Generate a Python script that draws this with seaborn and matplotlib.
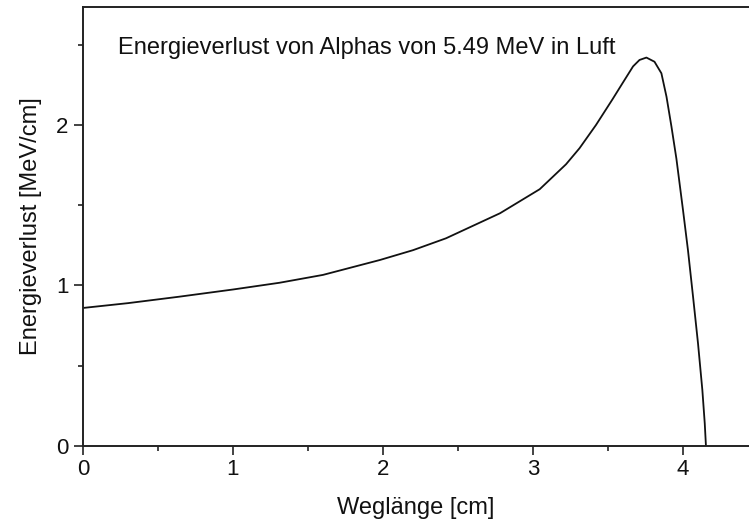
import matplotlib
matplotlib.use("Agg")
import matplotlib.pyplot as plt
import seaborn as sns
from matplotlib.ticker import MultipleLocator

# Data
weglaenge_cm = [0.00, 0.30, 0.64, 1.00, 1.31, 1.60, 1.98, 2.20, 2.42, 2.78,
                3.045, 3.22, 3.31, 3.42, 3.53, 3.60, 3.667, 3.71, 3.756, 3.81,
                3.856, 3.89, 3.923, 3.956, 4.00, 4.033, 4.067, 4.10, 4.129,
                4.145, 4.153]
energieverlust = [0.86, 0.89, 0.93, 0.975, 1.017, 1.066, 1.159, 1.22, 1.294, 1.45,
                  1.60, 1.755, 1.855, 2.00, 2.16, 2.265, 2.365, 2.405, 2.42, 2.394,
                  2.322, 2.176, 1.99, 1.79, 1.47, 1.221, 0.93, 0.64, 0.349,
                  0.141, 0.0]
x_ticks = [0, 1, 2, 3, 4]
y_ticks = [0, 1, 2]
title_text = "Energieverlust von Alphas von 5.49 MeV in Luft"
x_label = "Weglänge [cm]"
y_label = "Energieverlust [MeV/cm]"

sns.set_style("ticks")
plt.rcParams["font.family"] = ["Liberation Sans", "DejaVu Sans"]

fig = plt.figure(figsize=(7.49, 5.27), dpi=100)
ax = fig.add_axes([83 / 749, 81 / 527, 1 - 83 / 749, 439 / 527])

sns.lineplot(x=weglaenge_cm, y=energieverlust, ax=ax, color="#111111",
             linewidth=1.3, estimator=None, sort=False)

ax.set_xlim(0, 4.44)
ax.set_ylim(0, 2.735)
ax.set_xticks(x_ticks)
ax.set_yticks(y_ticks)
ax.xaxis.set_minor_locator(MultipleLocator(0.5))
ax.yaxis.set_minor_locator(MultipleLocator(0.5))
ax.tick_params(axis="both", which="major", direction="out", length=6.5,
               width=1.2, labelsize=16, color="#222222", labelcolor="#111111")
ax.tick_params(axis="both", which="minor", direction="out", length=3.5,
               width=1.2, color="#222222")
ax.tick_params(axis="x", which="major", pad=3)
ax.tick_params(axis="y", which="major", pad=4)

for s in ["left", "bottom", "top"]:
    ax.spines[s].set_visible(True)
    ax.spines[s].set_linewidth(1.4)
    ax.spines[s].set_color("#222222")
ax.spines["right"].set_visible(False)

ax.set_xlabel(x_label, fontsize=17, color="#111111", labelpad=12)
ax.set_ylabel(y_label, fontsize=17, color="#111111", labelpad=10)

ax.text(0.231, 2.44, title_text, fontsize=17, color="#111111",
        ha="left", va="baseline")

fig.savefig("out.png", dpi=100)
